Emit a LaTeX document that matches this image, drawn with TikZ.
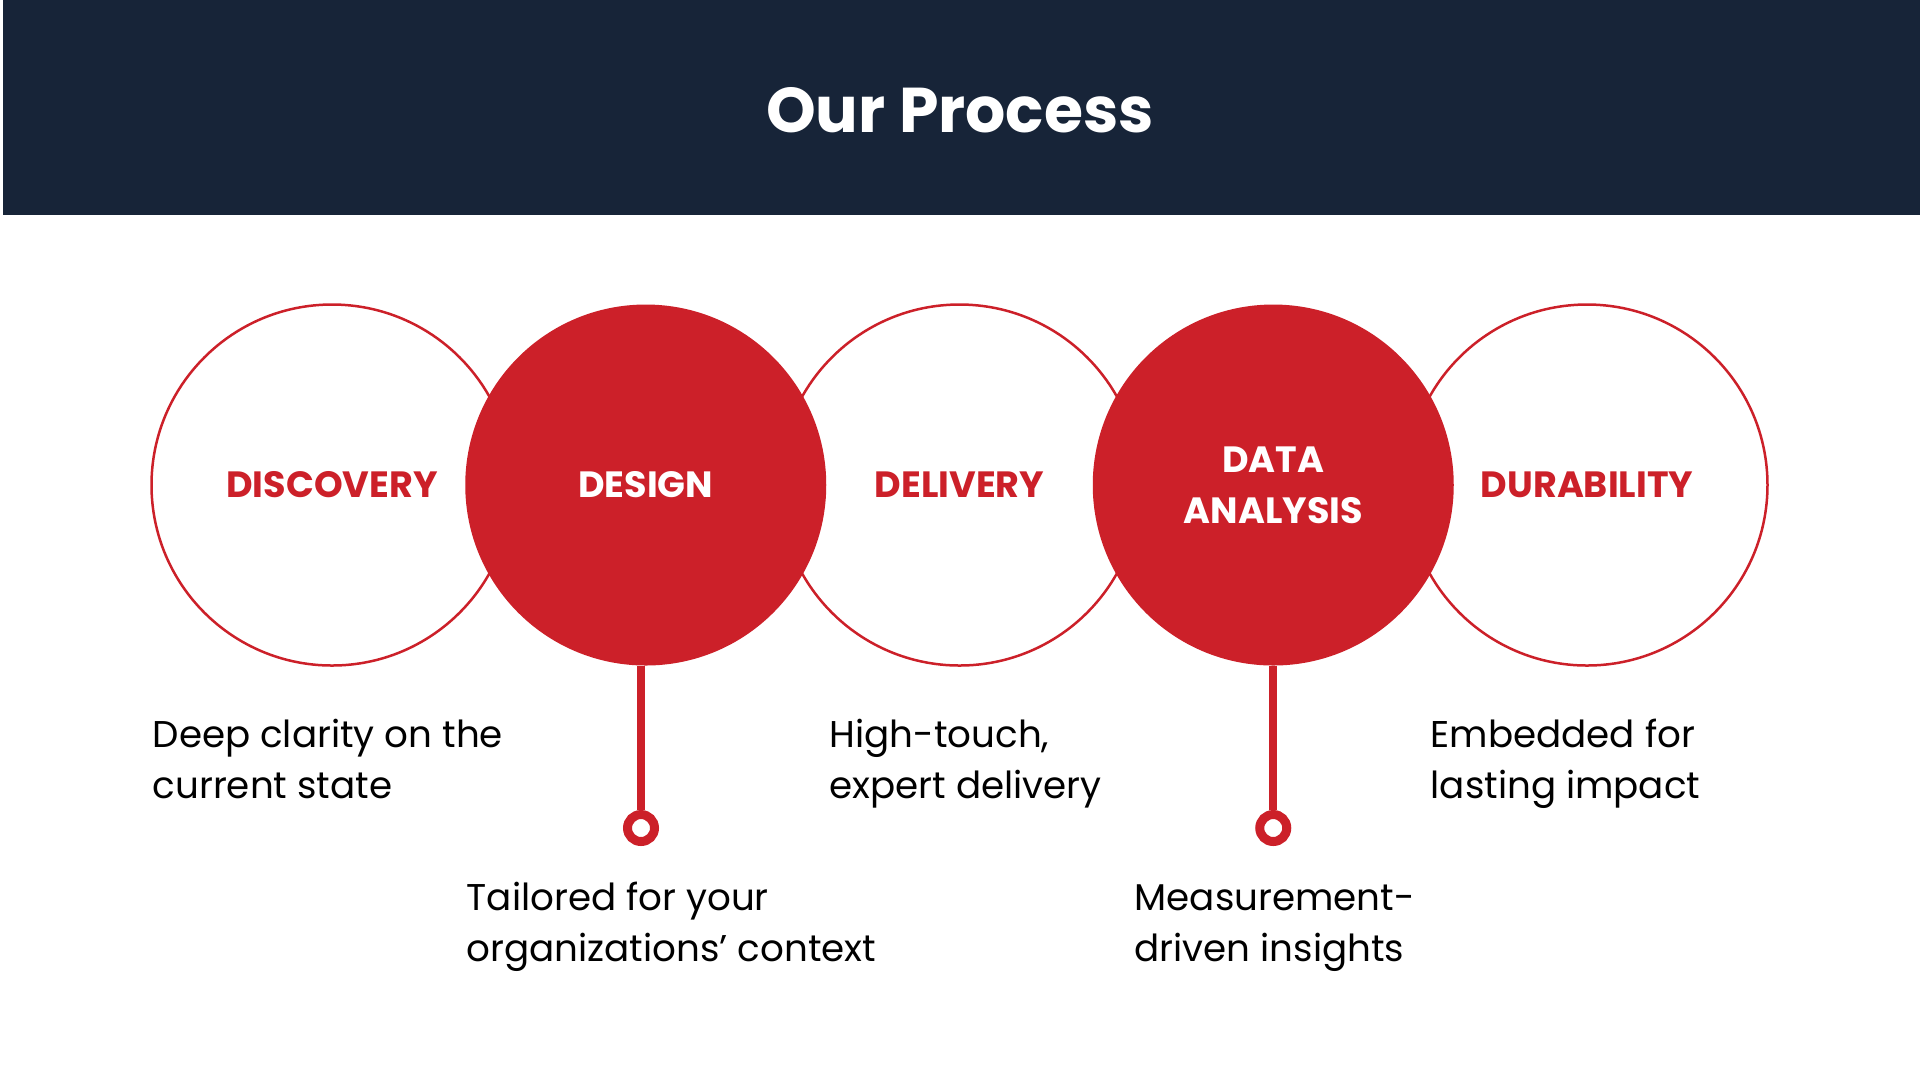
\documentclass[tikz,border=0pt]{standalone}
\usepackage{fontspec}
\setmainfont{Poppins}
\usetikzlibrary{positioning}
\definecolor{navy}{RGB}{23,36,56}
\definecolor{procred}{RGB}{204,32,41}

\begin{document}
\begin{tikzpicture}[x=0.1mm,y=-0.1mm,
  stage/.style={circle, minimum size=36.1mm, inner sep=0pt, align=center,
    font=\fontsize{10.4}{14.5}\selectfont\bfseries},
  openstage/.style={stage, draw=procred, line width=0.25mm, fill=white, text=procred},
  fullstage/.style={stage, fill=procred, text=white},
  ring/.style={circle, draw=procred, fill=white, line width=0.9mm,
    minimum size=2.7mm, inner sep=0pt},
  stem/.style={draw=procred, line width=0.8mm},
  note/.style={anchor=base west, inner sep=0pt, align=left,
    font=\fontsize{10.6}{14.5}\selectfont}]
  \useasboundingbox (0,0) rectangle (1920,1080);
  % header band
  \fill[navy] (3.5,0) rectangle (1920,215);
  \node[anchor=base, text=white, font=\fontsize{18}{22}\selectfont\bfseries]
    (title) at (960,132) {Our Process};
  % outlined stages first, filled ones on top
  \node[openstage] (discovery) at (332,485) {DISCOVERY};
  \node[openstage] (delivery) at (959.5,485) {DELIVERY};
  \node[openstage] (durability) at (1587,485) {DURABILITY};
  \node[fullstage] (design) at (645.75,485) {DESIGN};
  \node[fullstage] (analysis) at (1273.25,485) {DATA\\ANALYSIS};
  % stems with rings
  \node[ring] (designring) at (641,828) {};
  \node[ring] (analysisring) at (1273.25,828) {};
  \draw[stem] (designring.north) -- (designring.north |- design.south);
  \draw[stem] (analysisring.north) -- (analysisring.north |- analysis.south);
  % descriptions (base = last line)
  \node[note] (discoverytext) at (152,798) {Deep clarity on the\\current state};
  \node[note] (designtext) at (466,961) {Tailored for your\\organizations’ context};
  \node[note] (deliverytext) at (829,798) {High-touch,\\expert delivery};
  \node[note] (analysistext) at (1134,961) {Measurement-\\driven insights};
  \node[note] (durabilitytext) at (1430,798) {Embedded for\\lasting impact};
\end{tikzpicture}
\end{document}
